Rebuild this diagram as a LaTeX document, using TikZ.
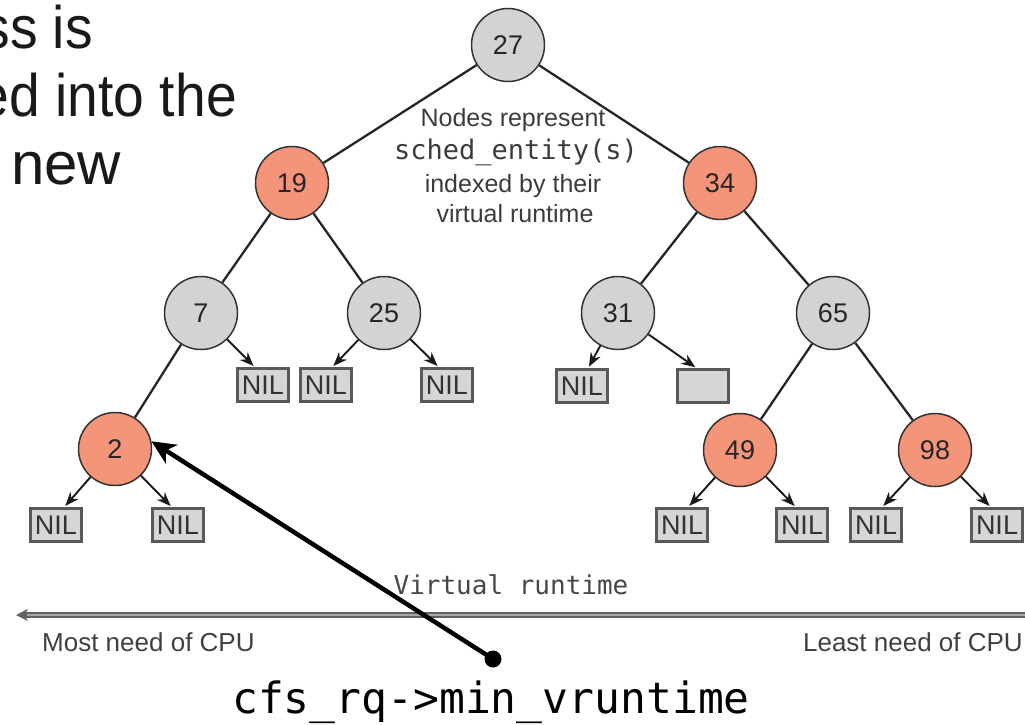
\documentclass[tikz,border=0pt]{standalone}
\usepackage{fontspec}
\setmainfont{Liberation Sans}
\newfontfamily\monoA{DejaVu Sans Mono}
\newfontfamily\slidefont[FakeStretch=0.92]{Liberation Sans}
\usetikzlibrary{arrows.meta}
\definecolor{nodered}{RGB}{244,148,120}
\definecolor{nodegray}{RGB}{211,211,213}
\definecolor{boxgray}{RGB}{214,214,216}
\definecolor{notegray}{RGB}{60,60,60}
\tikzset{
  treenode/.style={circle,draw=black!80,line width=1.5pt,minimum size=73pt,inner sep=0pt,
    font=\fontsize{27}{30}\selectfont,text=black!85},
  graynode/.style={treenode,fill=nodegray},
  rednode/.style={treenode,fill=nodered},
  nilbox/.style={rectangle,draw=black!65,line width=2.2pt,fill=boxgray,minimum width=51pt,
    minimum height=33pt,inner sep=0pt,font=\fontsize{27}{30}\selectfont,text=black!80},
  treeedge/.style={draw=black!85,line width=2.3pt},
  nilarrow/.style={draw=black!90,line width=1.9pt,-{Stealth[length=14pt,width=11pt]},shorten >=2pt},
  notetext/.style={text=notegray,inner sep=0pt,anchor=base,font=\fontsize{25}{28}\selectfont},
  bigtext/.style={inner sep=0pt,anchor=base east,font=\slidefont\fontsize{60}{68}\selectfont,text=black!90},
}
\begin{document}
\begin{tikzpicture}[x=1pt,y=-1pt]
\useasboundingbox (0,0) rectangle (1025,724);
% slide text (cropped at left)
\node[bigtext] (t1) at (93,48) {ss is};
\node[bigtext] (t2) at (237,116) {ed into the};
\node[bigtext,anchor=base west,font=\fontsize{60}{68}\selectfont] (t3) at (11,184) {new};
% tree nodes
\node[graynode] (n27) at (508,45) {27};
\node[rednode] (n19) at (292,183) {19};
\node[rednode] (n34) at (720,183) {34};
\node[graynode] (n7) at (201,313) {7};
\node[graynode] (n25) at (384,313) {25};
\node[graynode] (n31) at (618,313) {31};
\node[graynode] (n65) at (833,313) {65};
\node[rednode] (n2) at (115,449) {2};
\node[rednode] (n49) at (740,450) {49};
\node[rednode] (n98) at (935,450) {98};
% NIL boxes
\node[nilbox] (b7r) at (263,385) {NIL};
\node[nilbox] (b25l) at (326,385) {NIL};
\node[nilbox] (b25r) at (447,385) {NIL};
\node[nilbox] (b31l) at (582,386) {NIL};
\node[nilbox] (b31r) at (703,386) {};
\node[nilbox] (b2l) at (56,525) {NIL};
\node[nilbox] (b2r) at (178,525) {NIL};
\node[nilbox] (b49l) at (682,525) {NIL};
\node[nilbox] (b49r) at (802,525) {NIL};
\node[nilbox] (b98l) at (876,525) {NIL};
\node[nilbox] (b98r) at (997,525) {NIL};
% tree edges
\draw[treeedge] (n27) -- (n19);
\draw[treeedge] (n27) -- (n34);
\draw[treeedge] (n19) -- (n7);
\draw[treeedge] (n19) -- (n25);
\draw[treeedge] (n34) -- (n31);
\draw[treeedge] (n34) -- (n65);
\draw[treeedge] (n7) -- (n2);
\draw[treeedge] (n65) -- (n49);
\draw[treeedge] (n65) -- (n98);
% NIL arrows
\draw[nilarrow] (n7) -- ([xshift=-8pt]b7r.north);
\draw[nilarrow] (n25) -- ([xshift=6pt]b25l.north);
\draw[nilarrow] (n25) -- ([xshift=-8pt]b25r.north);
\draw[nilarrow] (n31) -- ([xshift=6pt]b31l.north);
\draw[nilarrow] (n31) -- ([xshift=-6pt]b31r.north);
\draw[nilarrow] (n2) -- ([xshift=8pt]b2l.north);
\draw[nilarrow] (n2) -- ([xshift=-6pt]b2r.north);
\draw[nilarrow] (n49) -- ([xshift=6pt]b49l.north);
\draw[nilarrow] (n49) -- ([xshift=-6pt]b49r.north);
\draw[nilarrow] (n98) -- ([xshift=6pt]b98l.north);
\draw[nilarrow] (n98) -- ([xshift=-6pt]b98r.north);
% note text
\node[notetext] (note1) at (513,126) {Nodes represent};
\node[notetext,font=\monoA\fontsize{27}{28}\selectfont] (note2) at (516,159) {sched\_entity(s)};
\node[notetext] (note3) at (513,192) {indexed by their};
\node[notetext] (note4) at (515,222) {virtual runtime};
% axis
\coordinate (axR) at (1025,615);
\coordinate (axL) at (16,615);
\draw[line width=5.5pt,draw=black!62,-{Stealth[length=12pt,width=12pt]}] (axR) -- (axL);
\draw[line width=1.6pt,draw=black!35] (axR) -- ([xshift=11pt]axL);
\node[inner sep=0pt,anchor=base,text=black!72,font=\monoA\fontsize{26}{28}\selectfont] (vr) at (511,594) {Virtual runtime};
\node[inner sep=0pt,anchor=base west,text=black!75,font=\fontsize{26}{28}\selectfont] (most) at (42,651) {Most need of CPU};
\node[inner sep=0pt,anchor=base east,text=black!75,font=\fontsize{26}{28}\selectfont] (least) at (1023,651) {Least need of CPU};
% pointer
\node[circle,fill=black,inner sep=0pt,minimum size=17pt] (dot) at (493,659) {};
\draw[line width=4.5pt,-{Stealth[length=24pt,width=22pt,inset=7pt]}] (dot.center) -- (n2.12);
\node[inner sep=0pt,anchor=base,font=\monoA\fontsize{43}{46}\selectfont] (cfs) at (491,713) {cfs\_rq->min\_vruntime};
\end{tikzpicture}
\end{document}
